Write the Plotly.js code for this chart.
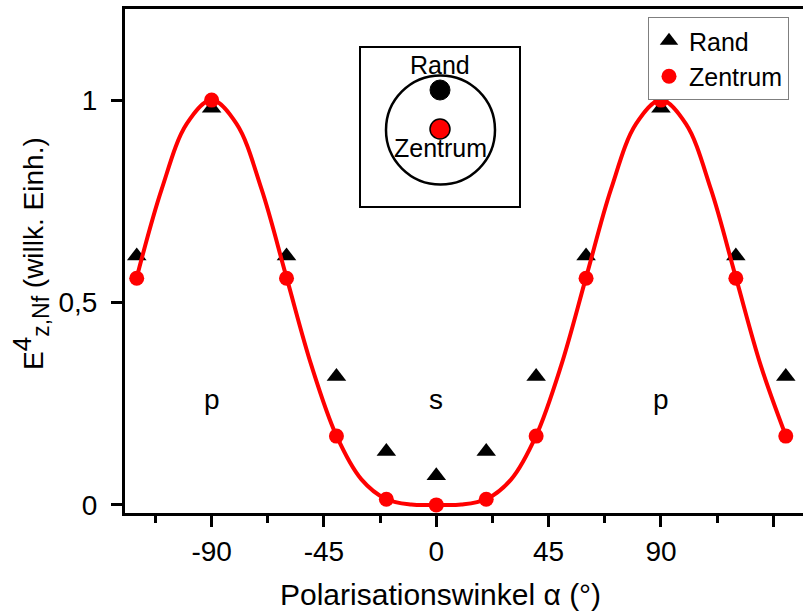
<!DOCTYPE html>
<html>
<head>
<meta charset="utf-8">
<script src="https://cdn.plot.ly/plotly-3.0.1.min.js"></script>
<style>
  html, body { margin: 0; padding: 0; background: #fff; overflow: hidden; }
  #chart { width: 803px; height: 613px; }
</style>
</head>
<body>
<div id="chart"></div>
<script>
// Polarisation angle of the measured points (degrees)
const angles = [-120, -90, -60, -40, -20, 0, 20, 40, 60, 90, 120, 140];
// Near-field enhancement at the rim of the particle
const rand = [0.615, 0.98, 0.615, 0.317, 0.132, 0.072, 0.132, 0.317, 0.615, 0.98, 0.615, 0.317];
// Near-field enhancement at the centre of the particle
const zentrum = [0.56, 1.0, 0.56, 0.17, 0.014, 0.0, 0.014, 0.17, 0.56, 1.0, 0.56, 0.17];

// Fitted curve through the centre data
const fitAngles = [-120, -110, -100, -90, -80, -70, -60, -50, -40, -30, -20, -10, 0,
                   10, 20, 30, 40, 50, 60, 70, 80, 90, 100, 110, 120, 130, 140];
const fitValues = [0.562, 0.780, 0.941, 1.0, 0.941, 0.780, 0.562, 0.344, 0.171, 0.063, 0.014, 0.001, 0.0,
                   0.001, 0.014, 0.063, 0.171, 0.344, 0.562, 0.780, 0.941, 1.0, 0.941, 0.780, 0.562, 0.344, 0.171];

// Axis ticks
const xTickVals = [-90, -45, 0, 45, 90, 135];
const xTickText = ['-90', '-45', '0', '45', '90', ''];
const yTickVals = [0, 0.5, 1];
const yTickText = ['0', '0,5', '1'];

// Region labels (p / s polarisation)
const regionAngles = [-90, 0, 90];
const regionText = ['p', 's', 'p'];

const FONT = 'Liberation Sans, Arial, sans-serif';

// Plot area geometry in pixels, used for the sketch of the particle
const M = { l: 125, r: 0, t: 9, b: 100 };
const W = 803, H = 613;
const PW = W - M.l - M.r, PH = H - M.t - M.b;
const px = x => (x - M.l) / PW;
const py = y => (H - M.b - y) / PH;

const traces = [
  {
    x: angles, y: rand, name: 'Rand', type: 'scatter', mode: 'markers',
    marker: { symbol: 'triangle-up', size: 17, color: '#000' }
  },
  {
    x: fitAngles, y: fitValues, type: 'scatter', mode: 'lines', showlegend: false,
    line: { color: '#ff0000', width: 4, shape: 'spline', smoothing: 1 },
    hoverinfo: 'skip'
  },
  {
    x: angles, y: zentrum, name: 'Zentrum', type: 'scatter', mode: 'markers',
    marker: { symbol: 'circle', size: 15, color: '#ff0000' }
  }
];

const annotations = regionAngles.map((a, i) => ({
  x: a, y: 0.26, xref: 'x', yref: 'y', text: regionText[i], showarrow: false,
  font: { family: FONT, size: 28, color: '#000' }, xanchor: 'center', yanchor: 'middle'
}));

// Inset labels
annotations.push(
  { x: px(440), y: py(65), xref: 'paper', yref: 'paper', text: 'Rand', showarrow: false,
    font: { family: FONT, size: 25, color: '#000' }, xanchor: 'center', yanchor: 'middle' },
  { x: px(440), y: py(148), xref: 'paper', yref: 'paper', text: 'Zentrum', showarrow: false,
    font: { family: FONT, size: 25, color: '#000' }, xanchor: 'center', yanchor: 'middle' }
);

// Y axis title
annotations.push({
  x: px(30), y: py(254), xref: 'paper', yref: 'paper', textangle: -90,
  text: 'E<sup><span style="font-size:26px">4</span></sup><sub><span style="font-size:23px">z,Nf</span></sub> (willk. Einh.)',
  showarrow: false,
  font: { family: FONT, size: 28, color: '#000' }, xanchor: 'center', yanchor: 'middle'
});

// X axis title
annotations.push({
  x: px(440), y: py(594), xref: 'paper', yref: 'paper',
  text: 'Polarisationswinkel α (°)', showarrow: false,
  font: { family: FONT, size: 30, color: '#000' }, xanchor: 'center', yanchor: 'middle'
});

const shapes = [
  // inset frame
  { type: 'rect', xref: 'paper', yref: 'paper', x0: px(360), x1: px(520), y0: py(207), y1: py(47),
    line: { color: '#000', width: 2 }, fillcolor: '#fff', layer: 'below' },
  // particle outline
  { type: 'circle', xref: 'paper', yref: 'paper', x0: px(386), x1: px(495), y0: py(184.5), y1: py(75.5),
    line: { color: '#000', width: 2.5 } },
  // rim position
  { type: 'circle', xref: 'paper', yref: 'paper', x0: px(430), x1: px(450), y0: py(100), y1: py(80),
    line: { color: '#000', width: 1 }, fillcolor: '#000' },
  // centre position
  { type: 'circle', xref: 'paper', yref: 'paper', x0: px(430), x1: px(450), y0: py(139), y1: py(119),
    line: { color: '#000', width: 1.5 }, fillcolor: '#ff0000' }
];

const layout = {
  width: W, height: H,
  margin: M,
  paper_bgcolor: '#fff', plot_bgcolor: '#fff',
  font: { family: FONT, color: '#000' },
  showlegend: true,
  legend: {
    x: px(648), y: py(17), xanchor: 'left', yanchor: 'top',
    bgcolor: '#fff', bordercolor: '#7f7f7f', borderwidth: 1,
    font: { family: FONT, size: 25, color: '#000' },
    tracegroupgap: 0, itemwidth: 30, entrywidth: 128
  },
  xaxis: {
    range: [-124.7, 146.9], tickmode: 'array', tickvals: xTickVals, ticktext: xTickText,
    ticks: 'outside', ticklen: 11, tickwidth: 3, tickcolor: '#000',
    showline: true, linewidth: 3, linecolor: '#000', mirror: true,
    showgrid: false, zeroline: false,
    minor: { dtick: 22.5, tick0: 0, ticks: 'outside', ticklen: 7, tickwidth: 3, tickcolor: '#000', showgrid: false },
    tickfont: { family: FONT, size: 28, color: '#000' }
  },
  yaxis: {
    range: [-0.02, 1.225], tickmode: 'array', tickvals: yTickVals, ticktext: yTickText,
    ticks: 'outside', ticklen: 11, tickwidth: 3, tickcolor: '#000',
    showline: true, linewidth: 3, linecolor: '#000', mirror: false,
    showgrid: false, zeroline: false,
    tickfont: { family: FONT, size: 28, color: '#000' },
    ticklabelstandoff: 8
  },
  shapes: shapes,
  annotations: annotations
};

Plotly.newPlot('chart', traces, layout, { displayModeBar: false, staticPlot: true });
</script>
</body>
</html>
